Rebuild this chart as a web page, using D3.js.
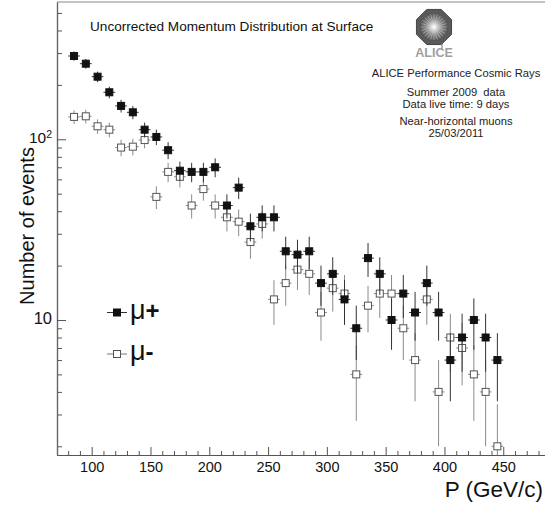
<!DOCTYPE html>
<html>
<head>
<meta charset="utf-8">
<script src="https://cdn.jsdelivr.net/npm/d3@7"></script>
<style>
  html, body { margin: 0; padding: 0; background: #fff; }
  svg { display: block; font-family: "Liberation Sans", Arial, Helvetica, sans-serif; }
  text { white-space: pre; }
</style>
</head>
<body>
<svg id="chart" width="545" height="508"></svg>
<script>
// ---- data ----
const momentumBins = [85, 95, 105, 115, 125, 135, 145, 155, 165, 175, 185, 195, 205, 215, 225, 235, 245, 255, 265, 275, 285, 295, 305, 315, 325, 335, 345, 355, 365, 375, 385, 395, 405, 415, 425, 435, 445];
const muPlusCounts = [289, 262, 222, 182, 153, 141, 113, 103, 87, 67, 66, 66, 70, 43, 54, 33, 37, 37, 24, 23, 24, 16, 18, 13, 9, 22, 18, 10, 14, 11, 16, 11, 6, 8, 10, 8, 6];
const muMinusCounts = [133, 134, 118, 113, 90, 91, 99, 48, 66, 62, 43, 53, 43, 37, 35, 27, 34, 13, 16, 19, 18, 11, 15, 14, 5, 12, 14, 14, 9, 6, 13, 4, 8, 7, 5, 4, 2];
const binHalfWidth = 5;
const xMajorTicks = [100, 150, 200, 250, 300, 350, 400, 450];
const yMajorTicks = [10, 100];
const yTickLabels = [["10", null], ["10", "2"]];
const seriesNames = ["μ", "μ"];
const seriesSigns = ["+", "-"];
const infoLines = ["ALICE Performance Cosmic Rays", "Summer 2009  data", "Data live time: 9 days", "Near-horizontal muons", "25/03/2011"];
const titleText = "Uncorrected Momentum Distribution at Surface";

// ---- layout ----
const padL = 57, padR = 545, padT = 2, padB = 455;
const svg = d3.select("#chart");

const x = d3.scaleLinear().domain([70.5, 485.5]).range([padL, padR]);
const y = d3.scaleLog().domain([1.79, 575]).range([padB, padT]);

const defs = svg.append("defs");
defs.append("clipPath").attr("id", "plotclip")
  .append("rect").attr("x", padL).attr("y", padT).attr("width", padR - padL).attr("height", padB - padT);

// frame top line
svg.append("line").attr("x1", padL).attr("x2", padR).attr("y1", padT).attr("y2", padT)
  .attr("stroke", "#888").attr("stroke-width", 1.2);

// x axis
const xMinor = d3.range(80, 481, 10).filter(v => !xMajorTicks.includes(v));
const gxMinor = svg.append("g").attr("transform", `translate(0,${padB})`)
  .call(d3.axisBottom(x).tickValues(xMinor).tickSizeInner(-4).tickSizeOuter(0).tickFormat(""));
const gx = svg.append("g").attr("transform", `translate(0,${padB})`)
  .call(d3.axisBottom(x).tickValues(xMajorTicks).tickSizeInner(-8).tickSizeOuter(0).tickPadding(7));
gx.selectAll("text").attr("font-size", 14.5).attr("fill", "#111").attr("font-family", "Liberation Sans, Arial, sans-serif");
[gx, gxMinor].forEach(g => {
  g.select(".domain").attr("stroke", "#555").attr("stroke-width", 1.2);
  g.selectAll(".tick line").attr("stroke", "#555");
});

// y axis
const yMinor = [];
[1, 10, 100].forEach(d => { for (let k = 2; k <= 9; k++) { const v = d * k; if (v >= 1.79 && v <= 575) yMinor.push(v); } });
const gyMinor = svg.append("g").attr("transform", `translate(${padL},0)`)
  .call(d3.axisLeft(y).tickValues(yMinor).tickSizeInner(-5).tickSizeOuter(0).tickFormat(""));
const gy = svg.append("g").attr("transform", `translate(${padL},0)`)
  .call(d3.axisLeft(y).tickValues(yMajorTicks).tickSizeInner(-9).tickSizeOuter(0).tickPadding(5).tickFormat(""));
[gy, gyMinor].forEach(g => {
  g.select(".domain").attr("stroke", "#666").attr("stroke-width", 1.2);
  g.selectAll(".tick line").attr("stroke", "#555");
});
gy.selectAll(".tick").each(function (d, i) {
  const t = d3.select(this).select("text").attr("x", -5).attr("dy", "0.36em")
    .attr("text-anchor", "end").attr("fill", "#111").attr("font-family", "Liberation Sans, Arial, sans-serif").text(null);
  const lab = yTickLabels[i];
  t.append("tspan").attr("font-size", lab[1] ? 15.5 : 16.5).text(lab[0]);
  if (lab[1]) t.append("tspan").attr("font-size", 10.5).attr("dy", "-0.55em").text(lab[1]);
});

// axis titles
svg.append("text").attr("x", 543).attr("y", 497).attr("text-anchor", "end")
  .attr("font-size", 22.5).attr("fill", "#111").text("P (GeV/c)");
svg.append("text").attr("transform", "translate(34,226) rotate(-90)").attr("text-anchor", "middle")
  .attr("font-size", 20).attr("fill", "#111").text("Number of events");

// data
const plot = svg.append("g").attr("clip-path", "url(#plotclip)");
function drawSeries(counts, filled) {
  const g = plot.append("g");
  const barColor = filled ? "#333" : "#8a8a8a";
  const data = momentumBins.map((p, i) => ({ p, n: counts[i] }));
  g.selectAll("line.v").data(data).join("line").attr("class", "v")
    .attr("x1", d => x(d.p)).attr("x2", d => x(d.p))
    .attr("y1", d => y(d.n + Math.sqrt(d.n)))
    .attr("y2", d => { const lo = d.n - Math.sqrt(d.n); return lo > 1.79 ? y(lo) : padB + 2; })
    .attr("stroke", barColor).attr("stroke-width", 1);
  g.selectAll("line.h").data(data).join("line").attr("class", "h")
    .attr("x1", d => x(d.p - binHalfWidth)).attr("x2", d => x(d.p + binHalfWidth))
    .attr("y1", d => y(d.n)).attr("y2", d => y(d.n))
    .attr("stroke", barColor).attr("stroke-width", 1);
  g.selectAll("rect").data(data).join("rect")
    .attr("x", d => x(d.p) - 3.5).attr("y", d => y(d.n) - 3.5)
    .attr("width", 7).attr("height", 7)
    .attr("fill", filled ? "#111" : "#fff")
    .attr("stroke", filled ? "#111" : "#555").attr("stroke-width", 1);
}
drawSeries(muMinusCounts, false);
drawSeries(muPlusCounts, true);

// legend
const legendY = [312.5, 354];
[true, false].forEach((filled, i) => {
  const ly = legendY[i];
  svg.append("line").attr("x1", 107).attr("x2", 127).attr("y1", ly).attr("y2", ly)
    .attr("stroke", filled ? "#333" : "#777").attr("stroke-width", 1);
  svg.append("rect").attr("x", 113.5).attr("y", ly - 3.5).attr("width", 7).attr("height", 7)
    .attr("fill", filled ? "#111" : "#fff").attr("stroke", filled ? "#111" : "#555");
  const t = svg.append("text").attr("x", 130).attr("y", ly + 6).attr("font-size", 27).attr("fill", "#111");
  t.append("tspan").text(seriesNames[i]);
  t.append("tspan").attr("font-weight", "bold").attr("font-size", 24).text(seriesSigns[i]);
});

// title
svg.append("text").attr("x", 90).attr("y", 31).attr("font-size", 13.6).attr("fill", "#111").text(titleText);

// info text
const infoY = [77, 96, 108, 125, 137];
infoLines.forEach((s, i) => {
  svg.append("text").attr("x", 456).attr("y", infoY[i]).attr("text-anchor", "middle")
    .attr("font-size", 11.2).attr("fill", "#222").text(s);
});

// ALICE logo
const lg = svg.append("g").attr("transform", "translate(434,27)");
const grad = defs.append("radialGradient").attr("id", "lgrad");
grad.append("stop").attr("offset", "0%").attr("stop-color", "#eeeeee");
grad.append("stop").attr("offset", "55%").attr("stop-color", "#8a8a8a");
grad.append("stop").attr("offset", "100%").attr("stop-color", "#555");
const oct = r => d3.range(8).map(k => { const a = Math.PI / 8 + k * Math.PI / 4; return [r * Math.cos(a), r * Math.sin(a)]; });
lg.append("path").attr("d", d3.line()(oct(19)) + "Z").attr("fill", "#5a5a5a").attr("stroke", "#444");
lg.append("path").attr("d", d3.line()(oct(15)) + "Z").attr("fill", "url(#lgrad)");
d3.range(24).forEach(k => {
  const a = k * Math.PI / 12;
  lg.append("line").attr("x1", 0).attr("y1", 0).attr("x2", 13 * Math.cos(a)).attr("y2", 13 * Math.sin(a))
    .attr("stroke", "#fff").attr("stroke-opacity", 0.45).attr("stroke-width", 0.7);
});
lg.append("line").attr("x1", 8).attr("x2", 8).attr("y1", 17).attr("y2", 23).attr("stroke", "#888").attr("stroke-width", 1.2);
svg.append("text").attr("x", 434).attr("y", 57).attr("text-anchor", "middle")
  .attr("font-size", 12.5).attr("font-weight", "bold").attr("fill", "#a0a0a0").text("ALICE");
</script>
</body>
</html>
